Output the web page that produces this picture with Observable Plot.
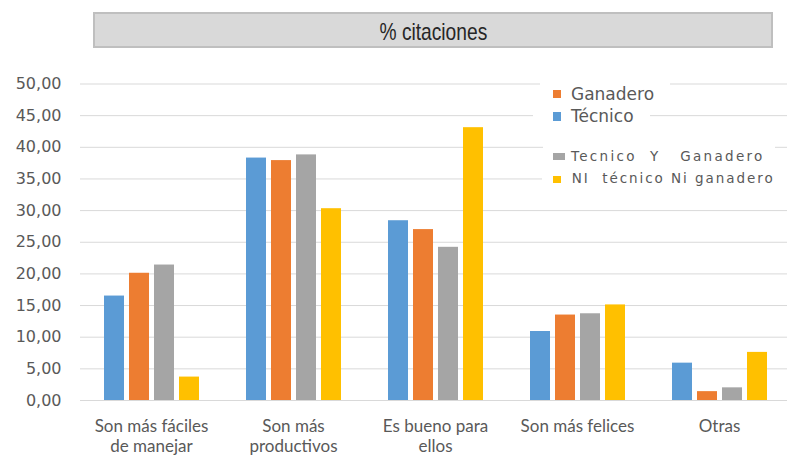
<!DOCTYPE html>
<html>
<head>
<meta charset="utf-8">
<script src="https://cdn.jsdelivr.net/npm/d3@7"></script>
<script src="https://cdn.jsdelivr.net/npm/@observablehq/plot@0.6"></script>
<style>
  html, body { margin: 0; padding: 0; background: #fff; overflow: hidden; }
  #wrap { position: relative; width: 787px; height: 458px; }
  #chart { position: absolute; left: 0; top: 0; }
  #title { position: absolute; left: 93px; top: 12px; width: 676px; height: 32px;
    border: 2px solid #bfbfbf; background: #d9d9d9; text-align: center; }
  #title span { display: inline-block; font-family: "Liberation Sans", Arial, sans-serif;
    font-size: 24px; line-height: 35px; color: #262626; transform: scaleX(0.8); white-space: nowrap; }
  .leg { position: absolute; background: #fff; font-family: "DejaVu Sans", sans-serif; color: #595959; white-space: pre; }
  .leg .sw { position: absolute; }
  .leg .tx { position: absolute; line-height: normal; }
</style>
</head>
<body>
<div id="wrap">
  <div id="chart"></div>
  <div id="title"><span>% citaciones</span></div>
  <div id="legend"></div>
</div>
<script>
const categories = ["Son más fáciles de manejar", "Son más productivos", "Es bueno para ellos", "Son más felices", "Otras"];
const categoryLabels = ["Son más fáciles\nde manejar", "Son más\nproductivos", "Es bueno para\nellos", "Son más felices", "Otras"];
const series = ["Técnico", "Ganadero", "Tecnico Y Ganadero", "NI técnico Ni ganadero"];
const colors = ["#5B9BD5", "#ED7D31", "#A5A5A5", "#FFC000"];
const tecnico  = [16.5, 38.3, 28.4, 10.9, 5.9];
const ganadero = [20.1, 37.9, 27.0, 13.5, 1.4];
const tecnicoYGanadero = [21.4, 38.8, 24.2, 13.7, 2.0];
const niTecnicoNiGanadero = [3.7, 30.3, 43.1, 15.1, 7.6];
const yTicks = [0, 5, 10, 15, 20, 25, 30, 35, 40, 45, 50];

const seriesValues = [tecnico, ganadero, tecnicoYGanadero, niTecnicoNiGanadero];
const data = categories.flatMap((c, i) => series.map((s, j) => ({cat: c, serie: s, value: seriesValues[j][i]})));

const chart = Plot.plot({
  width: 787,
  height: 458,
  marginLeft: 79,
  marginRight: -3,
  marginTop: 83.5,
  marginBottom: 58,
  style: {background: "transparent", overflow: "visible"},
  fx: {domain: categories, padding: 0, label: null, axis: null},
  x: {domain: series, paddingInner: 0.216, paddingOuter: 0.896, axis: null},
  y: {domain: [0, 50], axis: null},
  color: {domain: series, range: colors},
  marks: [
    Plot.gridY(yTicks, {stroke: "#d9d9d9", strokeOpacity: 1, strokeWidth: 1}),
    Plot.axisY(yTicks, {tickSize: 0, tickPadding: 19, label: null,
      tickFormat: d => d.toFixed(2).replace(".", ","),
      fontFamily: "DejaVu Sans", fontSize: 16, color: "#595959"}),
    Plot.barY(data, {fx: "cat", x: "serie", y: "value", fill: "serie"}),
    Plot.axisFx({anchor: "bottom", tickSize: 0, tickPadding: 17, label: null,
      tickFormat: d => categoryLabels[categories.indexOf(d)],
      fontFamily: "Lato", fontSize: 17, color: "#595959", lineHeight: 1.2})
  ]
});
document.getElementById("chart").appendChild(chart);

// legend (HTML overlay with white backgrounds)
const legendOrder = [1, 0, 2, 3];
const legendBoxes = [
  {left: 540, top: 80, w: 130, h: 24, sw: [13, 10, 7.5, 8], tx: [31, 4.2], fs: 17, ls: 0, text: "Ganadero"},
  {left: 533, top: 105, w: 117, h: 22, sw: [20, 6.7, 8, 9], tx: [38, 0.9], fs: 17, ls: 0, text: "Técnico"},
  {left: 543, top: 140, w: 232, h: 26, sw: [10, 12.7, 12, 7], tx: [28, 7.6], fs: 13.5, ls: 2.3, text: "Tecnico  Y   Ganadero"},
  {left: 542, top: 168, w: 250, h: 26, sw: [11, 8, 8, 7], tx: [29.7, 2.2], fs: 13.5, ls: 1.95, text: "NI  técnico Ni ganadero"}
];
const leg = document.getElementById("legend");
legendBoxes.forEach((b, k) => {
  const d = document.createElement("div");
  d.className = "leg";
  Object.assign(d.style, {left: b.left + "px", top: b.top + "px", width: b.w + "px", height: b.h + "px"});
  const sw = document.createElement("div");
  sw.className = "sw";
  Object.assign(sw.style, {left: b.sw[0] + "px", top: b.sw[1] + "px", width: b.sw[2] + "px", height: b.sw[3] + "px", background: colors[legendOrder[k]]});
  const tx = document.createElement("div");
  tx.className = "tx";
  tx.textContent = b.text;
  Object.assign(tx.style, {left: b.tx[0] + "px", top: b.tx[1] + "px", fontSize: b.fs + "px", letterSpacing: b.ls + "px"});
  d.appendChild(sw);
  d.appendChild(tx);
  leg.appendChild(d);
});
</script>
</body>
</html>
